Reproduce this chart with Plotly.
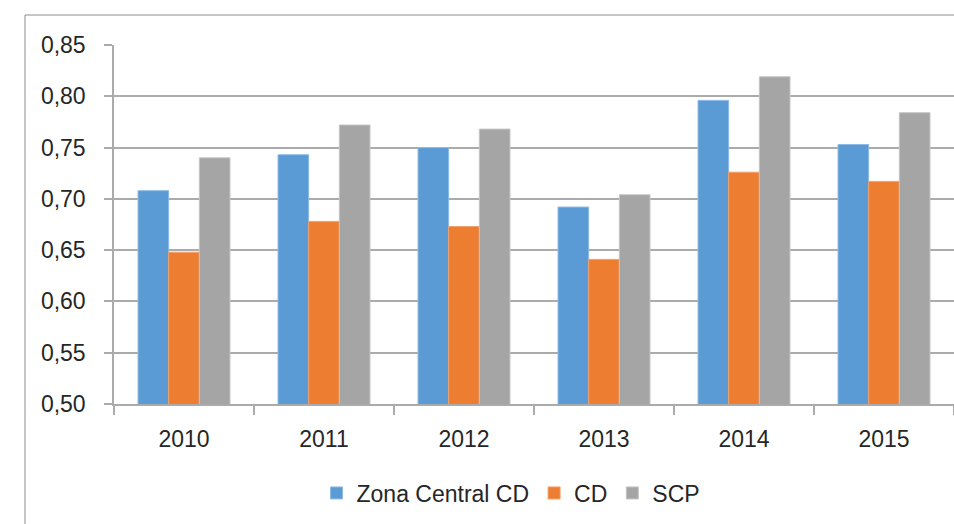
import plotly.graph_objects as go

years = ["2010", "2011", "2012", "2013", "2014", "2015"]
zona_central_cd = [0.708, 0.743, 0.750, 0.692, 0.796, 0.753]
cd = [0.648, 0.678, 0.673, 0.641, 0.726, 0.717]
scp = [0.740, 0.772, 0.768, 0.704, 0.819, 0.784]
y_ticks = [0.50, 0.55, 0.60, 0.65, 0.70, 0.75, 0.80, 0.85]

W, H = 954, 524
L, T, R, B = 114, 45, 0, 524 - 404
pw = W - L - R
ph = H - T - B

font = "Liberation Sans, Arial, sans-serif"
txt = "#262626"
grid = "#ababab"

fig = go.Figure()
for name, vals, col, edge in [
    ("Zona Central CD", zona_central_cd, "#5b9bd5", "#8dbbe6"),
    ("CD", cd, "#ed7d31", "#f3a06a"),
    ("SCP", scp, "#a5a5a5", "#c4c4c4"),
]:
    fig.add_trace(go.Bar(x=years, y=vals, name=name,
                         marker=dict(color=col, line=dict(color=edge, width=1))))

def px_x(p):
    return (p - L) / pw

def px_y(p):
    return (H - B - p) / ph

fig.update_layout(
    width=W, height=H,
    margin=dict(l=L, r=R, t=T, b=B, pad=0),
    paper_bgcolor="white", plot_bgcolor="white",
    separators=", ",
    barmode="group", bargap=0.343, bargroupgap=0,
    font=dict(family=font, size=23, color=txt),
    showlegend=True,
    legend=dict(orientation="h", x=px_x(511), y=px_y(493),
                xanchor="center", yanchor="middle",
                font=dict(family=font, size=23, color=txt),
                itemclick=False, traceorder="normal"),
    xaxis=dict(type="category", tickson="boundaries", ticks="outside",
               ticklen=9, tickcolor=grid, tickwidth=1.5,
               showline=True, linecolor=grid, linewidth=1.5,
               showgrid=False, ticklabelstandoff=14,
               tickfont=dict(family=font, size=23, color=txt)),
    yaxis=dict(range=[0.5, 0.85], tickvals=y_ticks, tickformat=".2f",
               ticks="outside", ticklen=8, tickcolor=grid, tickwidth=1.5,
               showline=True, linecolor=grid, linewidth=1.5,
               showgrid=True, gridcolor=grid, gridwidth=1.5,
               zeroline=False, ticklabelstandoff=14,
               tickfont=dict(family=font, size=23, color=txt)),
    shapes=[
        dict(type="line", xref="paper", yref="paper",
             x0=px_x(25), x1=px_x(954), y0=px_y(15), y1=px_y(15),
             line=dict(color="#8c8c8c", width=1)),
        dict(type="line", xref="paper", yref="paper",
             x0=px_x(25), x1=px_x(25), y0=px_y(15), y1=px_y(524),
             line=dict(color="#8c8c8c", width=1)),
    ],
)

fig.write_html(
    "out.html",
    config={"displayModeBar": False},
    post_script="document.body.style.margin='0';document.body.style.overflow='hidden';",
)
